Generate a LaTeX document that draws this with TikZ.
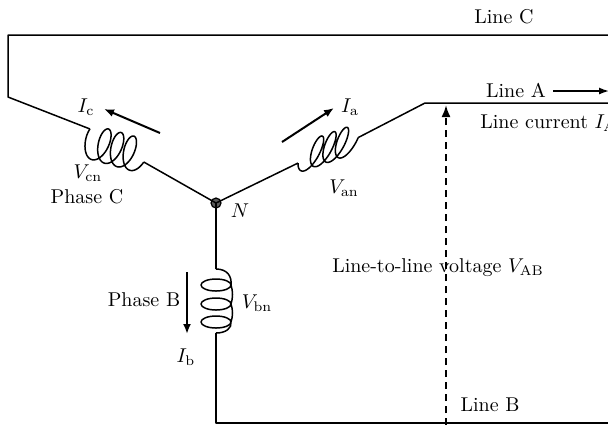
\documentclass[tikz,border=0pt]{standalone}
\usetikzlibrary{arrows.meta}
\def\ca{2.1}
\def\ce{8.5}
% trochoid coil: name, C0x, C0y, dx, dy, R, t0, t1
\newcommand{\mytroch}[8]{%
  \draw[wire] plot[domain=#7:#8, samples=300, variable=\t]
    ({#2 + (#4)*(\ca*\t + \ce*sin(\t r)) - 0.301*(#6)*cos(\t r)},
     {#3 + (#5)*(\ca*\t + \ce*sin(\t r)) + 0.954*(#6)*cos(\t r)});%
  \pgfmathsetmacro{\tsx}{#2 + (#4)*(\ca*(#7) + \ce*sin((#7) r)) - 0.301*(#6)*cos((#7) r)}%
  \pgfmathsetmacro{\tsy}{#3 + (#5)*(\ca*(#7) + \ce*sin((#7) r)) + 0.954*(#6)*cos((#7) r)}%
  \pgfmathsetmacro{\tex}{#2 + (#4)*(\ca*(#8) + \ce*sin((#8) r)) - 0.301*(#6)*cos((#8) r)}%
  \pgfmathsetmacro{\tey}{#3 + (#5)*(\ca*(#8) + \ce*sin((#8) r)) + 0.954*(#6)*cos((#8) r)}%
  \coordinate (#1s) at (\tsx,\tsy);%
  \coordinate (#1e) at (\tex,\tey);%
}
\tikzset{
  wire/.style={line width=0.75pt, line join=round},
  lbl/.style={inner sep=0pt},
  curarrow/.style={line width=1pt, -{Latex[length=5pt,width=4pt]}},
}
\begin{document}
\begin{tikzpicture}[x=0.5pt,y=-0.5pt]
\useasboundingbox (0,0) rectangle (608,425);
% coordinates
\coordinate (TL) at (8,35);
\coordinate (TR) at (612,35);
\coordinate (CL) at (8,97);
\coordinate (aK) at (425,103);
\coordinate (AR) at (612,103);
\coordinate (bS) at (216,269);
\coordinate (bE) at (216,333);
\coordinate (BL) at (216,423);
\coordinate (BR) at (612,423);
% neutral dot
\node[circle, fill=black!65, draw=black, line width=0.6pt, inner sep=0pt, minimum size=5pt] (N) at (216,203) {};
% coils (phase C and phase A)
\mytroch{cC}{96.9}{143.4}{0.963}{0.27}{17}{-0.75*pi}{6.4*pi}
\mytroch{cA}{309.7}{154.5}{0.944}{-0.33}{17}{-0.4*pi}{6.5*pi}
% wires
\draw[wire] (TR) -- (TL) -- (CL) -- (cCs);
\draw[wire] (cCe) -- (N.center);
\draw[wire] (N.center) -- (cAs);
\draw[wire] (cAe) -- (aK) -- (AR);
\draw[wire] (N.center) -- (bS);
% coil of phase B
\draw[wire] (bS) .. controls (227,269) and (232,276) .. (231,285)
  arc[start angle=0, end angle=360, x radius=15, y radius=6]
  .. controls (233,291) and (233,298) .. (231,304)
  arc[start angle=0, end angle=360, x radius=15, y radius=6]
  .. controls (233,310) and (233,316) .. (231,322)
  arc[start angle=0, end angle=360, x radius=15, y radius=6]
  .. controls (232,328) and (226,333) .. (bE);
\draw[wire] (bE) -- (BL) -- (BR);
% current arrows
\coordinate (icS) at (160,133); \coordinate (icE) at (104,109);
\draw[curarrow] (icS) -- (icE);
\coordinate (iaS) at (282,142); \coordinate (iaE) at (334,108);
\draw[curarrow] (iaS) -- (iaE);
\coordinate (ibS) at (187,272); \coordinate (ibE) at (187,334);
\draw[curarrow] (ibS) -- (ibE);
\coordinate (laS) at (553,91); \coordinate (laE) at (609,91);
\draw[line width=0.7pt, -{Latex[length=5pt,width=3.5pt]}] (laS) -- (laE);
% dashed voltage arrow
\coordinate (vS) at (446,425); \coordinate (vE) at (446,105);
\draw[line width=1pt, dash pattern=on 3.5pt off 2.5pt, -{Latex[length=6pt,width=4.5pt]}] (vS) -- (vE);
% labels
\node[lbl] (lineC) at (504,17) {Line C};
\node[lbl] (lineA) at (516,90) {Line A};
\node[lbl, anchor=west] (lcur) at (480,123) {Line current $I_\mathrm{A}$};
\node[lbl] (Ia) at (350,107) {$I_\mathrm{a}$};
\node[lbl] (Van) at (344,188) {$V_\mathrm{an}$};
\node[lbl] (Ic) at (86,107) {$I_\mathrm{c}$};
\node[lbl] (Vcn) at (88,173) {$V_\mathrm{cn}$};
\node[lbl] (phC) at (87,197) {Phase C};
\node[lbl] (Nl) at (240,211) {$N$};
\node[lbl] (phB) at (144,300) {Phase B};
\node[lbl] (Vbn) at (257,303) {$V_\mathrm{bn}$};
\node[lbl] (Ib) at (186,357) {$I_\mathrm{b}$};
\node[lbl] (vab) at (438,268) {Line-to-line voltage $V_\mathrm{AB}$};
\node[lbl] (lineB) at (490,405) {Line B};
\end{tikzpicture}
\end{document}
